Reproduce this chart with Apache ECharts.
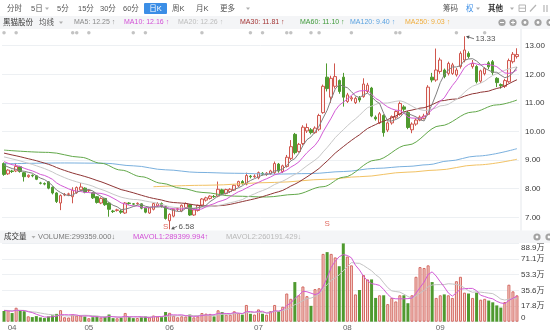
<!DOCTYPE html>
<html>
<head>
<meta charset="utf-8">
<script src="https://cdn.jsdelivr.net/npm/echarts@6/dist/echarts.min.js"></script>
<style>
html, body { margin: 0; padding: 0; background: #fff; }
#chart { width: 550px; height: 335px; }
</style>
</head>
<body>
<div id="chart"></div>
<script>
// 黑猫股份 日K线 + 成交量

// trading days per month shown on the axis
const monthDays = [['03', 2], ['04', 19], ['05', 20], ['06', 22], ['07', 22], ['08', 23], ['09', 20]];

const opens = [
  8.88, 8.52, 8.62, 8.62, 8.77, 8.56, 8.42, 8.47, 8.45, 8.20,
  8.18, 8.24, 8.05, 7.85, 7.50, 7.78, 7.80, 7.72, 7.86, 7.96,
  8.02, 7.93, 7.86, 7.72, 7.50, 7.66, 7.50, 7.22, 7.24, 7.22,
  7.15, 7.50, 7.47, 7.47, 7.47, 7.32, 7.15, 7.28, 7.40, 7.48,
  7.38, 6.88, 7.04, 7.28, 7.22, 7.34, 7.44, 7.08, 7.24, 7.43,
  7.60, 7.66, 7.73, 7.74, 7.96, 7.83, 7.90, 7.95, 8.10, 8.25,
  8.16, 8.44, 8.42, 8.38, 8.54, 8.50, 8.52, 8.56, 8.86, 8.60,
  8.78, 9.06, 9.90, 9.30, 9.58, 10.02, 10.06, 9.96, 10.08, 10.66,
  11.90, 11.20, 11.58, 11.78, 11.90, 11.05, 11.14, 11.01, 11.18, 11.22,
  11.40, 11.52, 10.50, 10.30, 10.56, 10.05, 10.30, 10.50, 10.60, 10.86,
  10.66, 10.06, 10.26, 10.40, 10.46, 10.60, 11.90, 11.80, 12.10, 12.15,
  12.03, 12.03, 11.98, 12.27, 12.50, 12.73, 12.27, 12.27, 11.76, 12.02,
  12.40, 12.44, 11.86, 11.64, 11.58, 11.74, 12.44, 12.62
];
const closes = [
  8.50, 8.65, 8.60, 8.78, 8.60, 8.42, 8.47, 8.45, 8.33, 8.19,
  8.16, 8.02, 7.85, 7.55, 7.76, 7.80, 7.82, 7.95, 8.04, 8.06,
  7.88, 7.94, 7.68, 7.52, 7.66, 7.44, 7.28, 7.20, 7.26, 7.18,
  7.50, 7.48, 7.46, 7.49, 7.32, 7.18, 7.33, 7.48, 7.48, 7.38,
  6.96, 7.10, 7.28, 7.30, 7.42, 7.48, 7.08, 7.26, 7.42, 7.64,
  7.68, 7.74, 7.72, 7.98, 7.83, 7.97, 7.98, 8.12, 8.25, 8.18,
  8.46, 8.42, 8.44, 8.56, 8.51, 8.54, 8.62, 8.88, 8.62, 8.80,
  9.10, 9.47, 9.26, 9.55, 10.15, 10.14, 9.96, 10.12, 10.56, 11.58,
  11.50, 11.86, 11.92, 11.40, 11.20, 11.28, 11.18, 11.16, 11.10, 11.66,
  11.62, 10.54, 10.44, 10.62, 9.96, 10.30, 10.52, 10.70, 10.98, 10.78,
  10.14, 10.26, 10.40, 10.50, 10.54, 11.55, 11.80, 12.15, 12.50, 11.92,
  12.38, 12.33, 12.15, 12.73, 12.85, 12.62, 12.38, 11.74, 12.12, 12.20,
  12.26, 12.06, 11.71, 11.60, 11.78, 12.48, 12.70, 12.69
];
const lows = [
  8.45, 8.48, 8.55, 8.58, 8.56, 8.25, 8.38, 8.40, 8.30, 8.15,
  8.12, 7.98, 7.80, 7.50, 7.25, 7.74, 7.75, 7.49, 7.82, 7.92,
  7.84, 7.88, 7.64, 7.48, 7.46, 7.40, 7.02, 7.15, 7.20, 7.12,
  7.12, 7.44, 7.42, 7.44, 7.28, 7.14, 7.12, 7.24, 7.36, 7.34,
  6.92, 6.58, 7.00, 7.22, 7.18, 7.30, 7.05, 7.05, 7.20, 7.40,
  7.55, 7.62, 7.68, 7.70, 7.78, 7.80, 7.85, 7.92, 8.06, 8.14,
  8.12, 8.36, 8.38, 8.33, 8.46, 8.45, 8.48, 8.50, 8.56, 8.55,
  8.74, 9.00, 9.20, 9.26, 9.52, 9.95, 9.90, 9.92, 10.02, 10.62,
  11.40, 11.00, 11.50, 11.32, 10.87, 11.00, 11.06, 10.96, 11.02, 11.18,
  11.34, 10.50, 10.38, 10.26, 9.82, 9.98, 10.24, 10.44, 10.55, 10.70,
  10.08, 9.94, 10.20, 10.36, 10.42, 10.56, 11.72, 11.74, 12.02, 11.86,
  11.96, 11.98, 11.92, 12.20, 12.42, 12.55, 12.20, 11.68, 11.70, 11.96,
  12.18, 11.98, 11.55, 11.50, 11.52, 11.70, 12.38, 12.55
];
const highs = [
  8.92, 8.68, 8.66, 8.90, 8.80, 8.58, 8.50, 8.50, 8.47, 8.24,
  8.22, 8.26, 8.08, 7.88, 7.80, 7.85, 7.86, 8.05, 8.08, 8.20,
  8.05, 7.98, 7.88, 7.74, 7.70, 7.68, 7.52, 7.26, 7.30, 7.27,
  7.53, 7.53, 7.50, 7.52, 7.49, 7.34, 7.35, 7.51, 7.53, 7.52,
  7.40, 7.14, 7.30, 7.34, 7.45, 7.52, 7.46, 7.28, 7.44, 7.67,
  7.72, 7.77, 7.78, 8.25, 8.00, 8.00, 8.02, 8.15, 8.28, 8.30,
  8.56, 8.48, 8.50, 8.60, 8.58, 8.58, 8.66, 8.95, 8.90, 8.84,
  9.18, 9.70, 9.95, 9.60, 10.22, 10.28, 10.12, 10.18, 10.62, 11.64,
  12.38, 11.95, 12.38, 11.82, 12.05, 11.35, 11.24, 11.22, 11.24, 11.86,
  11.70, 11.56, 10.56, 10.68, 10.60, 10.35, 10.56, 10.74, 11.05, 10.92,
  10.72, 10.32, 10.46, 10.56, 10.62, 11.62, 12.05, 12.90, 12.58, 12.20,
  12.44, 12.40, 12.22, 12.80, 13.33, 12.80, 12.50, 12.32, 12.16, 12.25,
  12.46, 12.50, 11.90, 11.68, 11.84, 12.55, 12.78, 12.91
];
// 成交量（手）
const volumes = [
  121400, 132600, 98200, 158700, 127300, 118900, 61200, 52400, 63100, 48800,
  41200, 59700, 71300, 88600, 131200, 50400, 47900, 82300, 69800, 71500,
  58600, 39800, 51200, 60400, 47300, 52800, 81600, 40200, 38900, 46700,
  99400, 51300, 40600, 42100, 50900, 61800, 49700, 70300, 58200, 51600,
  109800, 101300, 68900, 50200, 61400, 59300, 80800, 49600, 60300, 98700,
  91200, 88400, 59900, 129800, 108700, 80300, 79600, 118400, 99100, 80200,
  190300, 89600, 81200, 139700, 90400, 79800, 121300, 190000, 120000, 170000,
  320000, 260000, 450000, 300000, 400000, 290000, 180000, 370000, 380000, 770000,
  790000, 770000, 730000, 630000, 889000, 740000, 640000, 310000, 360000, 530000,
  480000, 480000, 270000, 300000, 300000, 200000, 270000, 230000, 300000, 300000,
  210000, 300000, 510000, 620000, 610000, 640000, 450000, 270000, 300000, 310000,
  300000, 270000, 460000, 510000, 330000, 320000, 270000, 330000, 250000, 260000,
  240000, 220000, 184914.32, 160000, 223000, 420000, 344640.97, 299359
];

// closes / volumes of the sessions just before the window (feed the first averages)
const priorCloses = [
  9.62, 9.58, 9.66, 9.55, 9.48, 9.52, 9.44, 9.40, 9.47, 9.38,
  9.30, 9.35, 9.42, 9.36, 9.28, 9.22, 9.30, 9.25, 9.18, 9.12,
  9.20, 9.10, 9.05, 8.98, 9.02, 8.95, 8.88, 8.92, 8.85
];
const priorVolumes = [150000, 120000, 140000, 110000, 130000, 160000, 120000, 100000, 140000];

// long averages: [day index, value]
const ma60Points = [
  [0, 9.35], [11, 9.27], [19, 9.10], [24, 8.89], [29, 8.65], [34, 8.42], [39, 8.19],
  [44, 8.01], [49, 7.87], [57, 7.74], [65, 7.71], [72, 7.80], [79, 8.07], [84, 8.40],
  [92, 9.00], [100, 9.53], [108, 10.20], [116, 10.68], [122, 10.93], [127, 11.10]
];
const ma120Points = [
  [0, 8.87], [15, 8.90], [25, 8.89], [32, 8.80], [40, 8.66], [48, 8.57], [57, 8.54],
  [67, 8.51], [76, 8.53], [84, 8.60], [92, 8.71], [100, 8.78], [105, 8.84], [110, 8.97],
  [117, 9.14], [127, 9.40]
];
const ma250Points = [
  [37, 8.07], [50, 8.12], [67, 8.22], [80, 8.33], [88, 8.42], [100, 8.58], [107, 8.65],
  [117, 8.83], [127, 9.03]
];

// news / notice markers along the top, and S signals near the bottom
const eventDays = [0, 3, 17, 18, 21, 32, 35, 49, 61, 64, 70, 71, 76, 78, 86, 97, 98, 112, 119];
const eventLevel = 13.45;
const signals = [[40, 6.66], [80, 6.77]];

// price axis range, ticks and volume axis divisions
const priceMin = 6.5, priceMax = 13.5, priceStep = 0.5;
const volDivisions = 5;

// ---------------------------------------------------------------
const days = monthDays.flatMap(([m, n]) =>
  Array.from({ length: n }, (_, k) => m + '-' + String(k + 1).padStart(2, '0')));

function movingAverage(values, prior, n) {
  const all = prior.concat(values);
  const off = prior.length;
  return values.map((_, i) => {
    const end = off + i;
    const start = Math.max(0, end - n + 1);
    let s = 0;
    for (let k = start; k <= end; k++) s += all[k];
    return s / (end - start + 1);
  });
}

const ma5 = movingAverage(closes, priorCloses, 5);
const ma10 = movingAverage(closes, priorCloses, 10);
const ma20 = movingAverage(closes, priorCloses, 20);
const ma30 = movingAverage(closes, priorCloses, 30);
const mavol1 = movingAverage(volumes, priorVolumes, 5);
const mavol2 = movingAverage(volumes, priorVolumes, 10);

const UP = '#d0574e', UP_FILL = '#fdf2f0', DOWN = '#4f9a2f';
const VOL_UP_FILL = '#f6d4d0', VOL_UP_LINE = '#d36860';
const C = {
  ma5: '#808080', ma10: '#d35bd6', ma20: '#c8c8c8', ma30: '#8f3535',
  ma60: '#62a84a', ma120: '#7ab0de', ma250: '#f2c264'
};
const FONT = "'Liberation Sans', 'Noto Sans CJK SC', sans-serif";

const candleData = opens.map((o, i) => [o, closes[i], lows[i], highs[i]]);
const volData = volumes.map((v, i) => ({
  value: v / 10000,
  itemStyle: closes[i] >= opens[i]
    ? { color: VOL_UP_FILL, borderColor: VOL_UP_LINE, borderWidth: 1 }
    : { color: DOWN, borderColor: DOWN, borderWidth: 0 }
}));
const volMax = Math.max(...volumes) / 10000;

const lastIdx = closes.length - 1;
const arrow = (cur, prev) => (cur >= prev ? '↑' : '↓');
const last = a => a[a.length - 1];
const prevOf = a => a[a.length - 2];

function lineSeries(name, data, color, xi, yi, smooth) {
  return {
    name, type: 'line', data, xAxisIndex: xi, yAxisIndex: yi,
    showSymbol: false, symbol: 'none', silent: true,
    smooth: smooth ? 0.35 : false, smoothMonotone: smooth ? 'x' : undefined,
    lineStyle: { color, width: 1 }, z: 3
  };
}

const chart = echarts.init(document.getElementById('chart'), null, { renderer: 'canvas', width: 550, height: 335 });

chart.setOption({
  animation: false,
  backgroundColor: '#ffffff',
  grid: [
    { left: 2, width: 517, top: 31.4, height: 200.2, outerBoundsMode: 'none', containLabel: false },
    { left: 2, width: 517, top: 243.4, height: 78.3, outerBoundsMode: 'none', containLabel: false }
  ],
  xAxis: [
    {
      type: 'category', gridIndex: 0, data: days, boundaryGap: true,
      axisLine: { show: false }, axisTick: { show: false }, axisLabel: { show: false },
      splitLine: { show: false }
    },
    {
      type: 'category', gridIndex: 1, data: days, boundaryGap: true,
      axisLine: { show: false }, axisTick: { show: false }, splitLine: { show: false },
      axisLabel: {
        interval: (index, value) => index > 0 && value.endsWith('-01'),
        formatter: value => value.slice(0, 2),
        color: '#666', fontSize: 8, fontFamily: FONT, margin: 2
      }
    }
  ],
  yAxis: [
    {
      type: 'value', gridIndex: 0, position: 'right',
      min: priceMin, max: priceMax, interval: priceStep,
      axisLine: { show: false }, axisTick: { show: false },
      axisLabel: {
        formatter: v => (Math.abs(v - Math.round(v)) < 1e-6 ? v.toFixed(2) : ''),
        color: '#3a3a3a', fontSize: 8, fontFamily: FONT, margin: 6
      },
      splitLine: { lineStyle: { color: ['rgba(0,0,0,0)', '#edf0f3'], width: 1 } }
    },
    {
      type: 'value', gridIndex: 1, position: 'right',
      min: 0, max: volMax, interval: volMax / volDivisions,
      axisLine: { show: false }, axisTick: { show: false },
      axisLabel: {
        formatter: v => (v === 0 ? '0' : v.toFixed(1) + '万'),
        color: '#3a3a3a', fontSize: 8, fontFamily: FONT, margin: 2,
        verticalAlignMaxLabel: 'top', verticalAlignMinLabel: 'bottom'
      },
      splitLine: { lineStyle: { color: '#edf0f3', width: 1 } }
    }
  ],
  series: [
    {
      name: 'K', type: 'candlestick', data: candleData, xAxisIndex: 0, yAxisIndex: 0,
      barWidth: 3, silent: true,
      itemStyle: { color: UP_FILL, color0: DOWN, borderColor: UP, borderColor0: DOWN, borderWidth: 1 },
      z: 2
    },
    lineSeries('MA250', ma250Points, C.ma250, 0, 0, true),
    lineSeries('MA120', ma120Points, C.ma120, 0, 0, true),
    lineSeries('MA60', ma60Points, C.ma60, 0, 0, true),
    lineSeries('MA30', ma30, C.ma30, 0, 0, false),
    lineSeries('MA20', ma20, C.ma20, 0, 0, false),
    lineSeries('MA10', ma10, C.ma10, 0, 0, false),
    lineSeries('MA5', ma5, C.ma5, 0, 0, false),
    {
      name: 'events', type: 'scatter', xAxisIndex: 0, yAxisIndex: 0, silent: true,
      data: eventDays.map(d => [d, eventLevel]), symbolSize: 3.5,
      itemStyle: { color: '#b4b4b4' }, z: 4
    },
    {
      name: 'signals', type: 'scatter', xAxisIndex: 0, yAxisIndex: 0, silent: true,
      data: signals, symbolSize: 0,
      label: {
        show: true, position: 'inside', formatter: 'S',
        color: '#d9453a', fontSize: 8, fontFamily: FONT
      },
      z: 4
    },
    {
      name: 'VOLUME', type: 'bar', data: volData, xAxisIndex: 1, yAxisIndex: 1,
      barWidth: 3, silent: true, z: 2
    },
    lineSeries('MAVOL2', mavol2.map(v => v / 10000), '#c4c4c4', 1, 1, false),
    lineSeries('MAVOL1', mavol1.map(v => v / 10000), '#d35bd6', 1, 1, false)
  ]
});

// ---------------------------------------------------------------
// toolbar, legend rows and annotations
function text(x, y, s, fill, size, extra) {
  return {
    type: 'text', x, y, silent: true, z: 10,
    style: Object.assign({
      text: s, fill, font: size + 'px ' + FONT, align: 'left', verticalAlign: 'middle'
    }, extra || {})
  };
}
function caret(x, y, color) {
  return {
    type: 'polygon', silent: true, z: 10,
    shape: { points: [[x - 2, y - 1], [x + 2, y - 1], [x, y + 1.5]] },
    style: { fill: color || '#b0b0b0' }
  };
}
function circleIcon(x, y, glyph) {
  const els = [{
    type: 'circle', silent: true, z: 10, shape: { cx: x, cy: y, r: 3.6 },
    style: { fill: '#a3a3a3' }
  }];
  if (glyph === 'minus' || glyph === 'plus') {
    els.push({ type: 'line', silent: true, z: 11, shape: { x1: x - 2, y1: y, x2: x + 2, y2: y }, style: { stroke: '#fff', lineWidth: 1 } });
  }
  if (glyph === 'plus') {
    els.push({ type: 'line', silent: true, z: 11, shape: { x1: x, y1: y - 2, x2: x, y2: y + 2 }, style: { stroke: '#fff', lineWidth: 1 } });
  }
  if (glyph === 'gear') {
    els.push({ type: 'circle', silent: true, z: 11, shape: { cx: x, cy: y, r: 1.4 }, style: { fill: '#fff' } });
  }
  return els;
}

const g = [];
// backgrounds
g.push({ type: 'rect', silent: true, z: 0, shape: { x: 0, y: 16, width: 550, height: 13 }, style: { fill: '#f4f5f7' } });
g.push({ type: 'rect', silent: true, z: 0, shape: { x: 0, y: 230.5, width: 550, height: 12.5 }, style: { fill: '#f4f5f7' } });
g.push({ type: 'line', silent: true, z: 1, shape: { x1: 521, y1: 29, x2: 521, y2: 230.5 }, style: { stroke: '#e4e7eb', lineWidth: 1 } });

// period toolbar
const tb = '#555';
const rowY = 8.5;
[['分时', 7], ['5日', 31], ['5分', 57], ['15分', 78], ['30分', 100], ['60分', 123],
 ['周K', 172], ['月K', 196], ['更多', 220]].forEach(([s, x]) => g.push(text(x, rowY, s, tb, 7.5)));
g.push(caret(47, rowY));
g.push(caret(248, rowY));
g.push({ type: 'rect', silent: true, z: 9, shape: { x: 144, y: 3, width: 23, height: 11, r: 1 }, style: { fill: '#3b8ee6' } });
g.push(text(155.5, rowY, '日K', '#fff', 7.5, { align: 'center' }));
g.push(text(443, rowY, '筹码', tb, 7.5));
g.push(text(466, rowY, '权', '#3b8ee6', 7.5));
g.push(caret(478, rowY));
g.push(text(488, rowY, '其他', '#333', 7.5, { font: 'bold 7.5px ' + FONT }));
g.push(caret(512, rowY));
g.push({ type: 'rect', silent: true, z: 10, shape: { x: 519, y: 5, width: 6.5, height: 6.5 }, style: { fill: 'none', stroke: '#b5b5b5', lineWidth: 1 } });
g.push({ type: 'line', silent: true, z: 10, shape: { x1: 519, y1: 8.2, x2: 525.5, y2: 8.2 }, style: { stroke: '#b5b5b5', lineWidth: 1 } });
g.push({ type: 'line', silent: true, z: 10, shape: { x1: 530, y1: 11.5, x2: 536, y2: 5 }, style: { stroke: '#b5b5b5', lineWidth: 1.2 } });
g.push({ type: 'line', silent: true, z: 10, shape: { x1: 544, y1: 5, x2: 544, y2: 12 }, style: { stroke: '#b5b5b5', lineWidth: 1.2 } });
g.push({ type: 'line', silent: true, z: 10, shape: { x1: 547, y1: 5, x2: 547, y2: 12 }, style: { stroke: '#b5b5b5', lineWidth: 1.2 } });

// moving-average legend row
const legY = 22.5;
const f2 = v => v.toFixed(2);
g.push(text(3, legY, '黑猫股份', '#333', 7.5));
g.push(text(39, legY, '均线', '#555', 7.5));
g.push(caret(61, legY));
const maLegend = [
  ['MA5', ma5, 74, '#8a8a8a'],
  ['MA10', ma10, 124, '#d24fd6'],
  ['MA20', ma20, 178, '#bdbdbd'],
  ['MA30', ma30, 240, '#a33434'],
  ['MA60', ma60Points.map(p => p[1]), 300, '#3f9a3a'],
  ['MA120', ma120Points.map(p => p[1]), 350, '#5aa2e0'],
  ['MA250', ma250Points.map(p => p[1]), 405, '#f0ad3c']
];
maLegend.forEach(([name, arr, x, col]) => {
  g.push(text(x, legY, name + ': ' + f2(last(arr)) + ' ' + arrow(last(arr), prevOf(arr)), col, 7));
});
circleIcon(502, legY, 'minus').concat(circleIcon(513, legY, 'plus'), circleIcon(525, legY, 'gear'),
  circleIcon(538, legY, 'gear'), circleIcon(550, legY, 'gear')).forEach(e => g.push(e));

// volume legend row
const volY = 237;
g.push(text(4, volY, '成交量', '#333', 7.5));
g.push(caret(33.5, volY));
g.push(text(38, volY, 'VOLUME:' + volumes[lastIdx].toFixed(3) + arrow(volumes[lastIdx], volumes[lastIdx - 1]), '#7a7a7a', 7.5));
g.push(text(133, volY, 'MAVOL1:' + last(mavol1).toFixed(3) + arrow(last(mavol1), prevOf(mavol1)), '#d24fd6', 7.5));
g.push(text(226, volY, 'MAVOL2:' + last(mavol2).toFixed(3) + arrow(last(mavol2), prevOf(mavol2)), '#b8b8b8', 7.5));
circleIcon(537, volY, 'gear').concat(circleIcon(549, volY, 'gear')).forEach(e => g.push(e));

// lowest low / highest high call-outs
function callout(idx, val, dx, dy) {
  const p = chart.convertToPixel({ gridIndex: 0 }, [idx, val]);
  const tip = [p[0] + 1.5, p[1]];
  const tail = [p[0] + dx - 1.5, p[1] + dy];
  const ang = Math.atan2(tail[1] - tip[1], tail[0] - tip[0]);
  const hl = 3.2, hw = 1.8;
  const bx = tip[0] + Math.cos(ang) * hl, by = tip[1] + Math.sin(ang) * hl;
  const nx = -Math.sin(ang) * hw, ny = Math.cos(ang) * hw;
  return [
    { type: 'line', silent: true, z: 10, shape: { x1: tail[0], y1: tail[1], x2: bx, y2: by }, style: { stroke: '#555', lineWidth: 0.8 } },
    { type: 'polygon', silent: true, z: 10, shape: { points: [tip, [bx + nx, by + ny], [bx - nx, by - ny]] }, style: { fill: '#555' } },
    text(p[0] + dx, p[1] + dy, f2(val), '#555', 8)
  ];
}
const lowVal = Math.min(...lows), lowIdx = lows.indexOf(lowVal);
const highVal = Math.max(...highs), highIdx = highs.indexOf(highVal);
callout(lowIdx, lowVal, 9, -3).forEach(e => g.push(e));
callout(highIdx, highVal, 11, 2.5).forEach(e => g.push(e));

chart.setOption({ graphic: { elements: g } });
</script>
